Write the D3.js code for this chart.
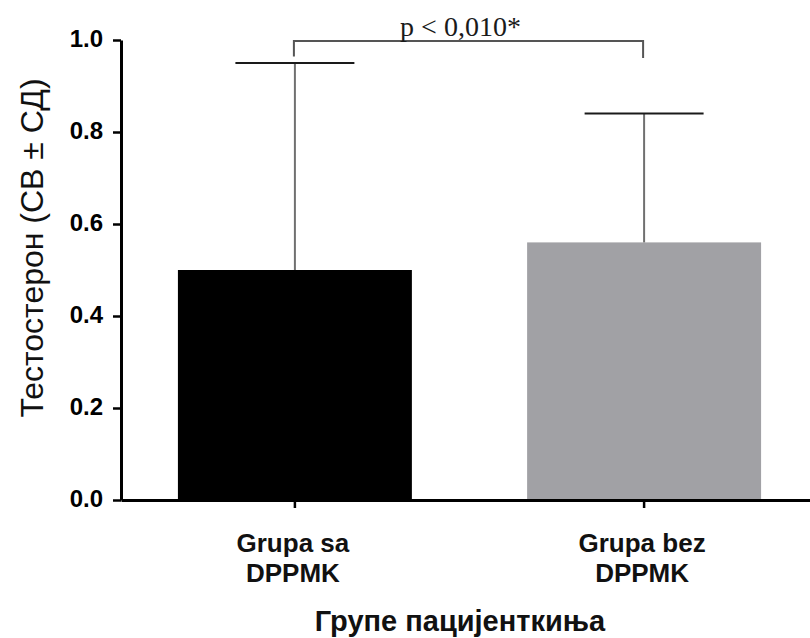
<!DOCTYPE html>
<html><head><meta charset="utf-8">
<script src="https://cdn.jsdelivr.net/npm/d3@7"></script>
<style>body{margin:0;background:#fff}</style>
</head><body>
<svg id="c" width="810" height="638"></svg>
<script>
const categories = [["Grupa sa","DPPMK"],["Grupa bez","DPPMK"]];
const means = [0.50, 0.56];
const sds = [0.45, 0.28];
const barColors = ["#000000", "#a1a1a5"];
const yTicks = [0.0, 0.2, 0.4, 0.6, 0.8, 1.0];
const pText = "p < 0,010*";
const yTitle = "Тестостерон (СВ ± СД)";
const xTitle = "Групе пацијенткиња";

const svg = d3.select("#c");
const x0 = 121, yBottom = 500, yTop = 40;
const keys = categories.map((d,i)=>i);
const x = d3.scaleBand().domain(keys).range([x0, 818]).paddingInner(0.33).paddingOuter(0.163);
const y = d3.scaleLinear().domain([0,1]).range([yBottom, yTop]);
const sans = "Liberation Sans, Arial, sans-serif";

// bars
svg.selectAll("rect.bar").data(means).join("rect")
  .attr("x",(d,i)=>x(i)).attr("width",x.bandwidth())
  .attr("y",d=>y(d)).attr("height",d=>y(0)-y(d))
  .attr("fill",(d,i)=>barColors[i]);

// error bars
const eg = svg.append("g").attr("stroke","#707070").attr("stroke-width",2);
means.forEach((m,i)=>{
  const cx = x(i)+x.bandwidth()/2;
  eg.append("line").attr("x1",cx).attr("x2",cx).attr("y1",y(m)).attr("y2",y(m+sds[i]));
  eg.append("line").attr("x1",cx-x.bandwidth()/4-1).attr("x2",cx+x.bandwidth()/4+1)
    .attr("y1",y(m+sds[i])).attr("y2",y(m+sds[i])).attr("stroke","#1a1a1a");
});

// y axis
const ya = svg.append("g").attr("transform",`translate(${x0},0)`)
  .call(d3.axisLeft(y).tickValues(yTicks).tickFormat(d3.format(".1f")).tickSize(8).tickSizeOuter(0));
ya.select(".domain").attr("stroke","#000").attr("stroke-width",3);
ya.selectAll(".tick line").attr("stroke","#000").attr("stroke-width",2.5);
ya.selectAll(".tick text").attr("font-family",sans)
  .attr("font-size",24).attr("font-weight","bold").attr("fill","#000")
  .attr("x",-18).attr("dy","0.28em");

// x axis
const xa = svg.append("g").attr("transform",`translate(0,${yBottom})`)
  .call(d3.axisBottom(x).tickSize(8).tickSizeOuter(0).tickFormat(""));
xa.select(".domain").attr("stroke","#000").attr("stroke-width",3);
xa.selectAll(".tick line").attr("stroke","#000").attr("stroke-width",2.5);
keys.forEach(i=>{
  const t = svg.append("text").attr("text-anchor","middle")
    .attr("font-family",sans).attr("font-size",26)
    .attr("font-weight","bold").attr("fill","#111");
  categories[i].forEach((s,j)=>{
    t.append("tspan").attr("x",x(i)+x.bandwidth()/2-2).attr("y",552+j*30).text(s);
  });
});

// titles
svg.append("text").attr("x",460).attr("y",631).attr("text-anchor","middle")
  .attr("font-family",sans).attr("font-size",29).attr("font-weight","bold")
  .attr("fill","#111").text(xTitle);
svg.append("text").attr("transform",`translate(43,248) rotate(-90)`)
  .attr("text-anchor","middle").attr("font-family",sans)
  .attr("font-size",32).attr("fill","#111").text(yTitle);

// significance bracket
const c1 = x(0)+x.bandwidth()/2, c2 = x(1)+x.bandwidth()/2;
svg.append("path").attr("fill","none").attr("stroke","#555").attr("stroke-width",2)
  .attr("d",`M${c1-1},${y(0.964)} V${y(0.998)} H${c2-1} V${y(0.961)}`);
svg.append("text").attr("x",(c1+c2)/2-9).attr("y",36).attr("text-anchor","middle")
  .attr("font-family","Liberation Serif, Times New Roman, serif").attr("font-size",28)
  .attr("fill","#1a1a1a").text(pText);
</script>
</body></html>
